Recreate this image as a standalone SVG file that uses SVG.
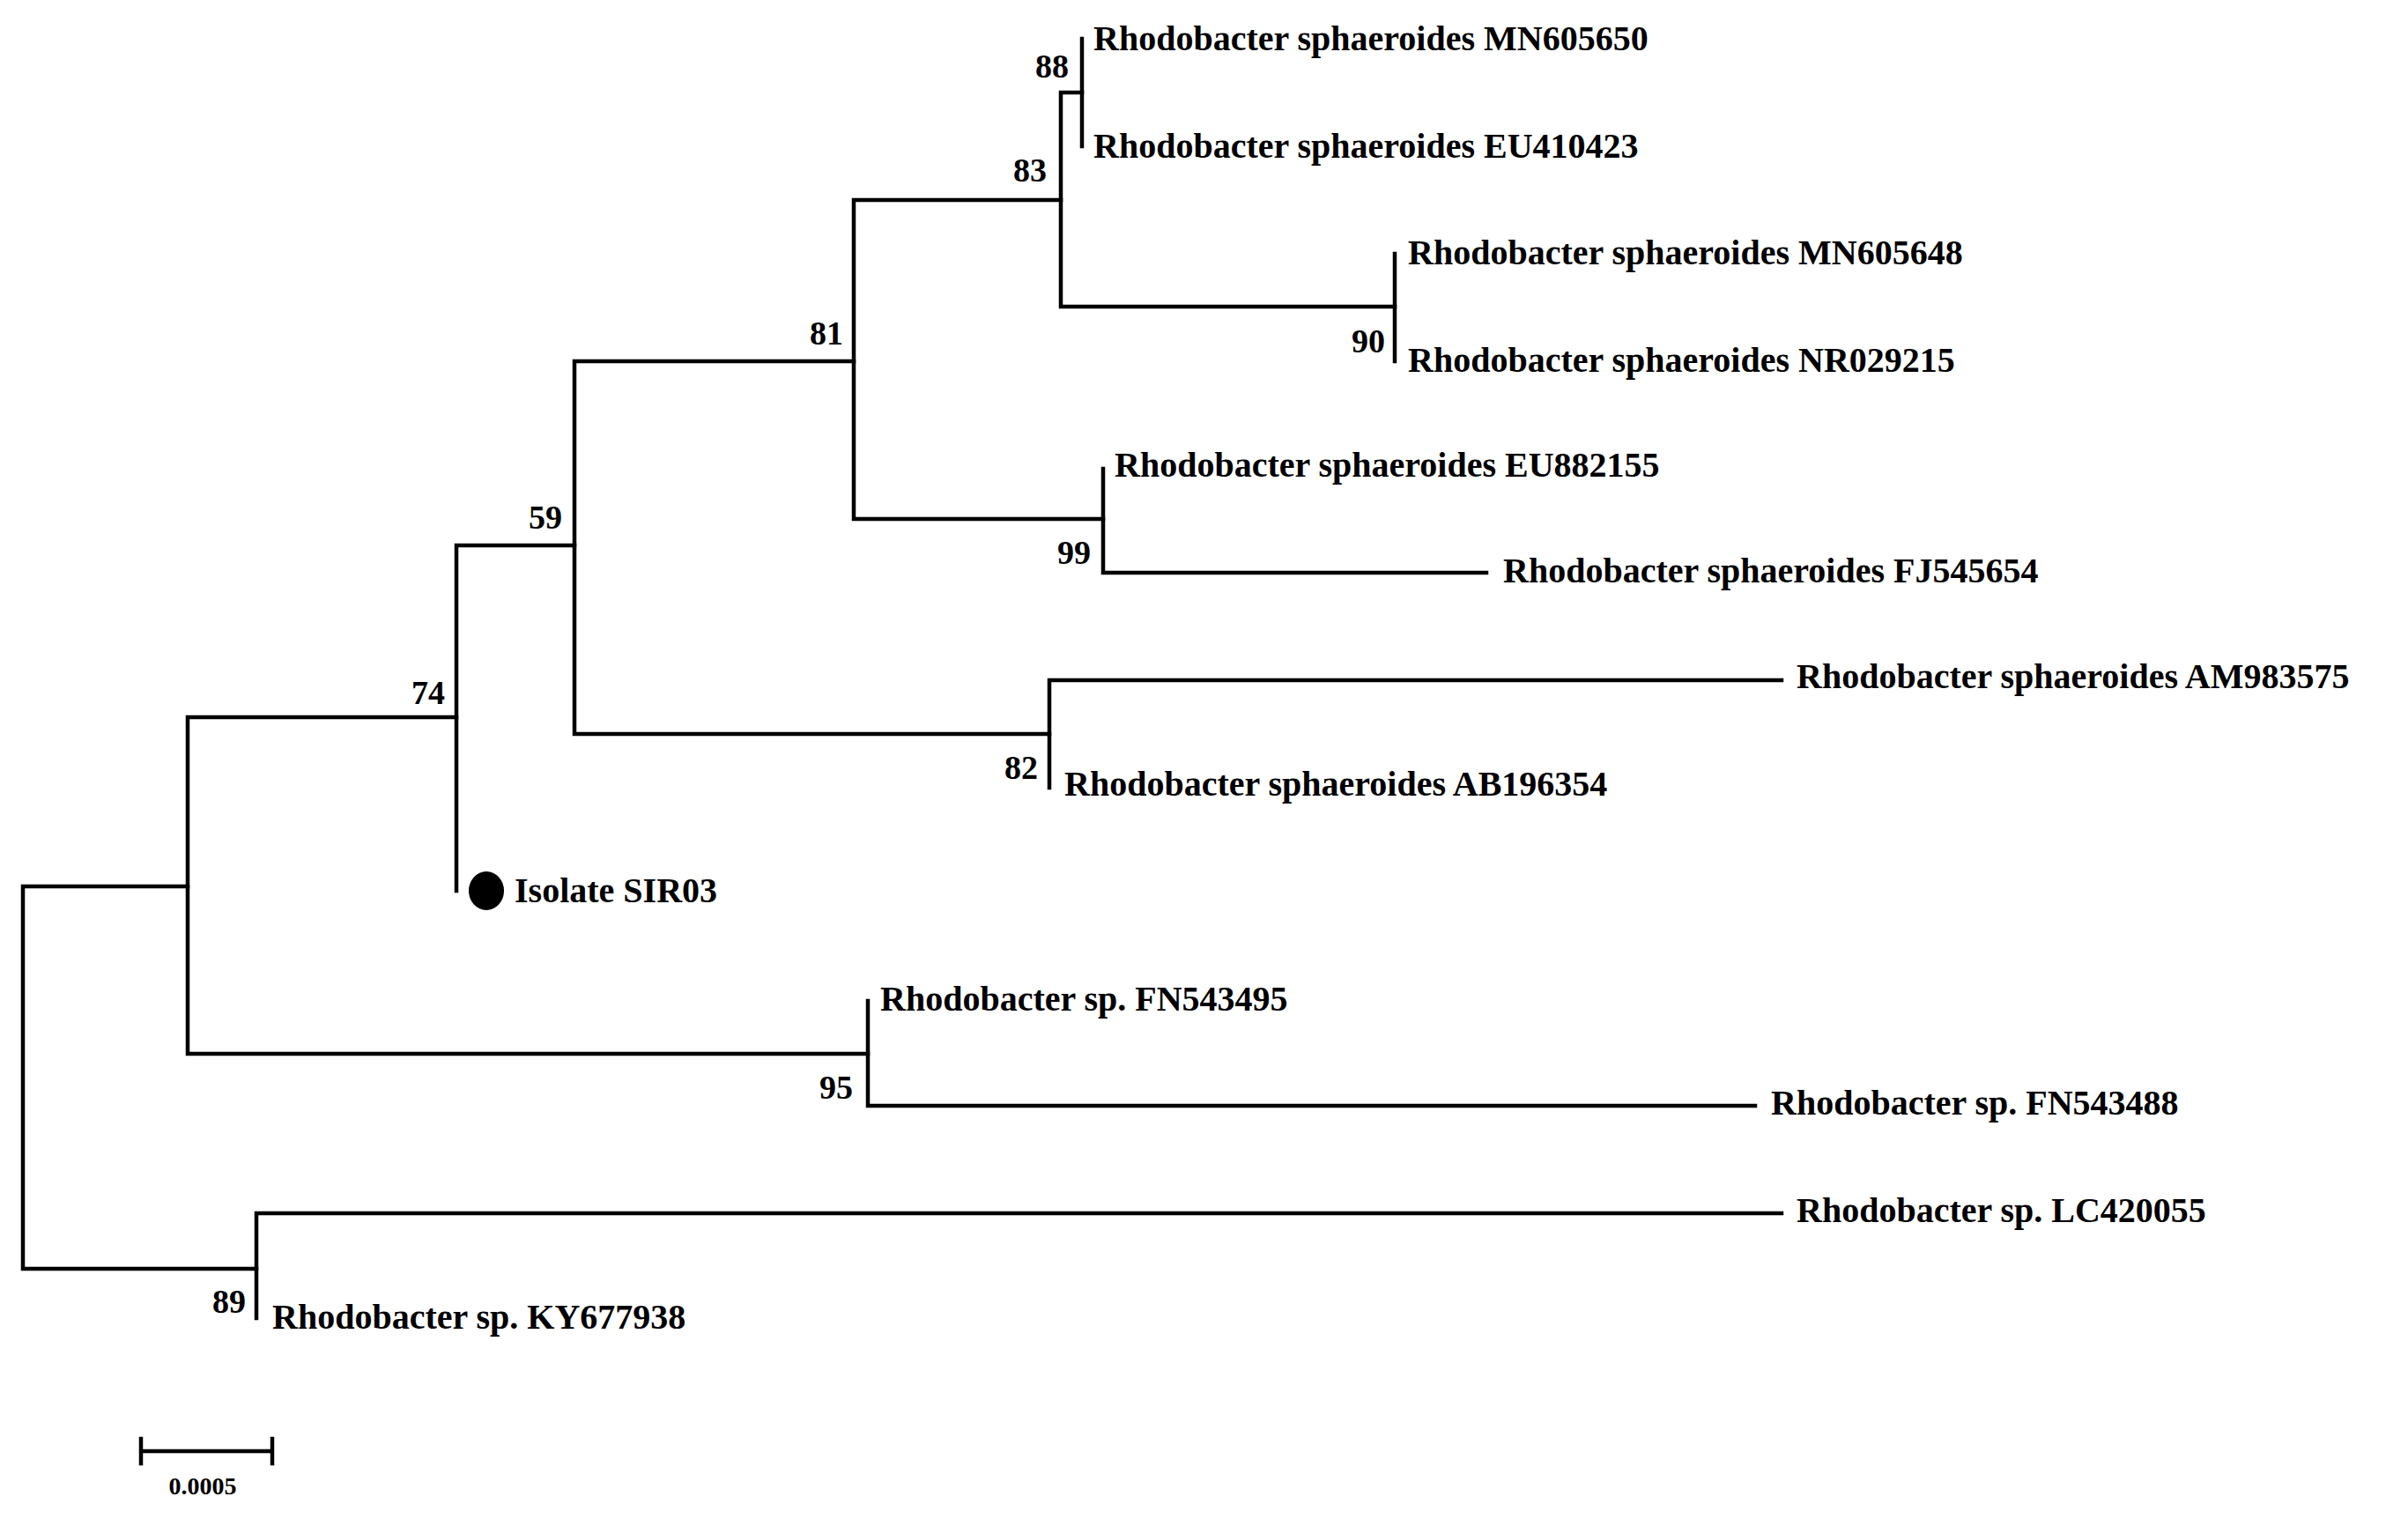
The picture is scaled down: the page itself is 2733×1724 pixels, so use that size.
<svg xmlns="http://www.w3.org/2000/svg" width="2733" height="1724" viewBox="0 0 2733 1724">
<style>
.t{font-family:"Liberation Serif","Times New Roman",serif;font-weight:bold;font-size:40px;fill:#000}
.b{font-family:"Liberation Serif","Times New Roman",serif;font-weight:bold;font-size:38px;fill:#000;text-anchor:end}
.e{fill:none;stroke:#000;stroke-width:4.5;stroke-linecap:square}
</style>
<rect width="2733" height="1724" fill="#fff"/>
<g id="connectors" class="e">
<path d="M26,1006V1440M26,1006H213M26,1440H291"/>
<path d="M213,814V1196M213,814H518M213,1196H985"/>
<path d="M518,619V1011M518,619H652"/>
<path d="M652,410V833M652,410H969M652,833H1191"/>
<path d="M969,227V589M969,227H1204M969,589H1252"/>
<path d="M1204,105V348M1204,105H1228M1204,348H1583"/>
<path d="M1228,44V166"/>
<path d="M1583,288V410"/>
<path d="M1252,532V650M1252,650H1687"/>
<path d="M1191,772V894M1191,772H2022"/>
<path d="M985,1136V1255M985,1255H1992"/>
<path d="M291,1377V1496M291,1377H2022"/>
<path d="M160,1647H309M160,1633V1661M309,1633V1661"/>
</g>
<g id="leaves">
<text class="t" x="1241" y="57">Rhodobacter sphaeroides MN605650</text>
<text class="t" x="1241" y="179">Rhodobacter sphaeroides EU410423</text>
<text class="t" x="1598" y="300">Rhodobacter sphaeroides MN605648</text>
<text class="t" x="1598" y="422">Rhodobacter sphaeroides NR029215</text>
<text class="t" x="1265" y="541">Rhodobacter sphaeroides EU882155</text>
<text class="t" x="1706" y="661">Rhodobacter sphaeroides FJ545654</text>
<text class="t" x="2039" y="781">Rhodobacter sphaeroides AM983575</text>
<text class="t" x="1208" y="903">Rhodobacter sphaeroides AB196354</text>
<g id="isolate"><ellipse cx="552" cy="1011" rx="20" ry="22" fill="#000"/>
<text class="t" x="584" y="1024">Isolate SIR03</text></g>
<text class="t" x="999" y="1147">Rhodobacter sp. FN543495</text>
<text class="t" x="2010" y="1265">Rhodobacter sp. FN543488</text>
<text class="t" x="2039" y="1387">Rhodobacter sp. LC420055</text>
<text class="t" x="309" y="1508">Rhodobacter sp. KY677938</text>
</g>
<g id="bootstrap">
<text class="b" x="1213" y="88">88</text>
<text class="b" x="1188" y="206">83</text>
<text class="b" x="957" y="391">81</text>
<text class="b" x="638" y="600">59</text>
<text class="b" x="505" y="799">74</text>
<text class="b" x="1572" y="400">90</text>
<text class="b" x="1238" y="640">99</text>
<text class="b" x="1178" y="884">82</text>
<text class="b" x="968" y="1247">95</text>
<text class="b" x="279" y="1490">89</text>
</g>
<text id="scale" x="230" y="1696" style="font-family:'Liberation Serif',serif;font-weight:bold;font-size:28px;text-anchor:middle">0.0005</text>
</svg>
